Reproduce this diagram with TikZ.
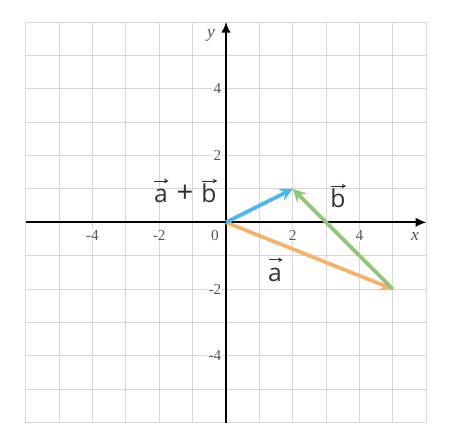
\documentclass[tikz,border=0pt]{standalone}
\usepackage{fontspec}
\setmainfont{Liberation Serif}
\newfontfamily\vecfont{Open Sans}
\usetikzlibrary{arrows.meta}
\definecolor{gridc}{HTML}{D6D6D6}
\definecolor{tickc}{HTML}{555555}
\definecolor{vblue}{HTML}{4DB6EA}
\definecolor{vgreen}{HTML}{93C47D}
\definecolor{vorange}{HTML}{F4B26E}
\definecolor{labc}{HTML}{333333}
\tikzset{
  gridline/.style={gridc, line width=0.9pt},
  axisline/.style={black, line width=1.5pt, -{Latex[length=9pt,width=8pt]}},
  ticklab/.style={font=\fontsize{13}{15}\selectfont, text=tickc, fill=white, inner sep=1pt},
  axislab/.style={font=\fontsize{15}{17}\selectfont\itshape, text=tickc},
  vecline/.style={line width=3.2pt, -{Stealth[length=11pt,width=11pt]}},
  veclab/.style={font=\fontsize{21}{25}\selectfont\vecfont, text=labc, inner sep=0pt, anchor=base, text height=15.5pt},
  plus/.style={font=\fontsize{25}{29}\selectfont\vecfont, text=labc, inner sep=0pt, anchor=base},
  overarrow/.style={labc, line width=0.8pt, -{Stealth[length=4pt,width=4pt]}}
}
\begin{document}
\begin{tikzpicture}[x=1cm,y=1cm]
\useasboundingbox (-6.77,-6.75) rectangle (7.01,6.66);
\draw[gridline] (-6,-6) grid (6,6);
% tick labels
\foreach \v in {-4,-2,2,4} {
  \node[ticklab] (xt\v) at (\v,-0.38) {\v};
}
\node[ticklab] (xt0) at (-0.33,-0.38) {0};
\foreach \v in {-4,-2,2,4} {
  \node[ticklab, anchor=east] (yt\v) at (-0.1,\v) {\v};
}
% axes
\coordinate (xl) at (-6,0);
\coordinate (xr) at (6,0);
\coordinate (yb) at (0,-6);
\coordinate (yt) at (0,6);
\draw[axisline] (xl) -- (xr);
\draw[axisline] (yb) -- (yt);
\node[axislab] (xlab) at (5.66,-0.43) {x};
\node[axislab] (ylab) at (-0.45,5.6) {y};
% vectors
\coordinate (O) at (0,0);
\coordinate (A) at (5,-2);
\coordinate (B) at (2,1);
\draw[vecline, vorange] (O) -- (A);
\draw[vecline, vblue] (O) -- (B);
\draw[vecline, vgreen] (A) -- (B);
% labels
\node[veclab] (sa) at (-1.95,0.58) {a};
\node[plus] (sp) at (-1.23,0.58) {+};
\node[veclab] (sb) at (-0.51,0.58) {b};
\node[veclab] (lb) at (3.35,0.43) {b};
\node[veclab] (la) at (1.47,-1.78) {a};
\foreach \n in {sa,sb,lb,la} {
  \draw[overarrow] ([xshift=0.5pt,yshift=3pt]\n.north west) -- ([xshift=0.5pt,yshift=3pt]\n.north east);
}
\end{tikzpicture}
\end{document}
